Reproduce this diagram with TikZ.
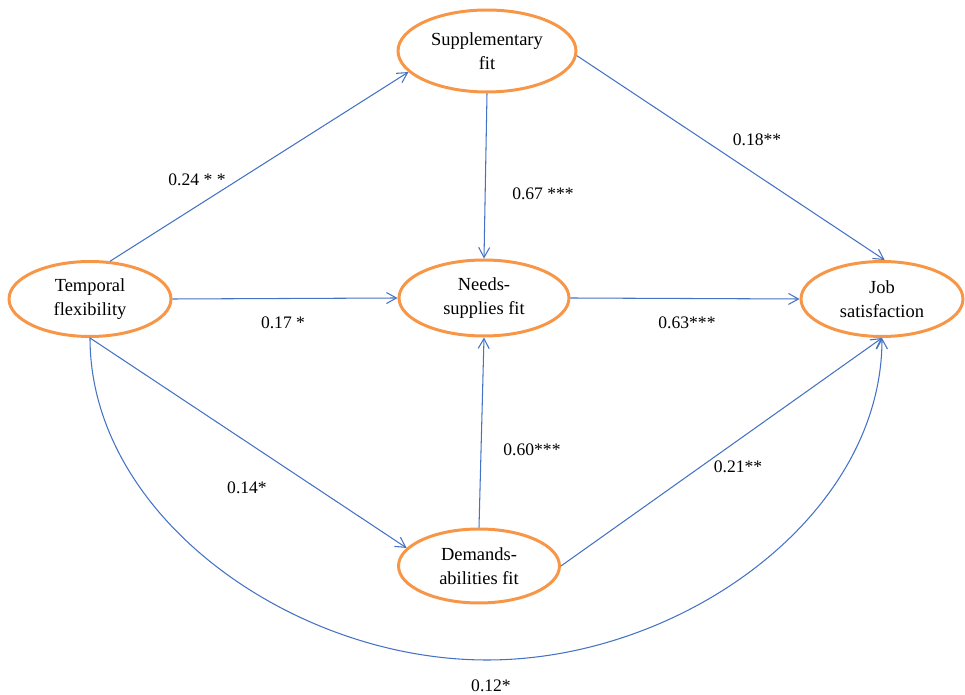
\documentclass[tikz,border=0pt]{standalone}
\usepackage{fontspec}
\setmainfont{Liberation Serif}
\usepackage{tikz}
\usetikzlibrary{shapes.geometric,arrows.meta}
\definecolor{fitorange}{RGB}{247,150,70}
\definecolor{linkblue}{RGB}{68,114,196}

\begin{document}
\begin{tikzpicture}[x=0.02cm,y=-0.02cm,
			construct/.style={ellipse,draw=fitorange,line width=1.7pt,align=center,
				inner sep=0pt,font=\fontsize{10.5}{13.5}\selectfont},
			link/.style={draw=linkblue,line width=0.6pt,-{Straight Barb[length=2mm,width=2.2mm]}},
			coef/.style={font=\fontsize{10}{12}\selectfont}]
		\useasboundingbox (0,0) rectangle (965,695);
		% constructs
		\node[construct,minimum width=3.24cm,minimum height=1.5cm] (tf) at (90,299) {Temporal\\flexibility};
		\node[construct,minimum width=3.56cm,minimum height=1.64cm] (sf) at (487,51) {Supplementary\\fit};
		\node[construct,minimum width=3.4cm,minimum height=1.52cm] (ns) at (484,298) {Needs-\\supplies fit};
		\node[construct,minimum width=3.22cm,minimum height=1.48cm] (da) at (479,566) {Demands-\\abilities fit};
		\node[construct,minimum width=3.24cm,minimum height=1.5cm] (js) at (882,299) {Job\\satisfaction};
		\coordinate (low) at (487,660);
		% paths
		\draw[link] (tf.62) -- (sf.195);
		\draw[link] (tf.east) -- (ns.west);
		\draw[link] (tf.south) -- (da.166);
		\draw[link] (sf.south) -- (ns.north);
		\draw[link] (sf.-3) -- (js.86);
		\draw[link] (ns.east) -- (js.west);
		\draw[link] (da.north) -- (ns.south);
		\draw[link] (da.east) -- (js.south);
		\draw[link] (tf.south) .. controls +(0,178) and +(-195,0) .. (low)
			.. controls +(195,0) and +(0,178) .. (js.south);
		% coefficients
		\node[coef] (c1) at (197,180) {0.24 * *};
		\node[coef] (c2) at (543,194) {0.67 ***};
		\node[coef] (c3) at (757,140) {0.18**};
		\node[coef] (c4) at (283,323) {0.17 *};
		\node[coef] (c5) at (687,323) {0.63***};
		\node[coef] (c6) at (247,488) {0.14*};
		\node[coef] (c7) at (532,450) {0.60***};
		\node[coef] (c8) at (738,467) {0.21**};
		\node[coef] (c9) at (491,686) {0.12*};
\end{tikzpicture}
\end{document}
